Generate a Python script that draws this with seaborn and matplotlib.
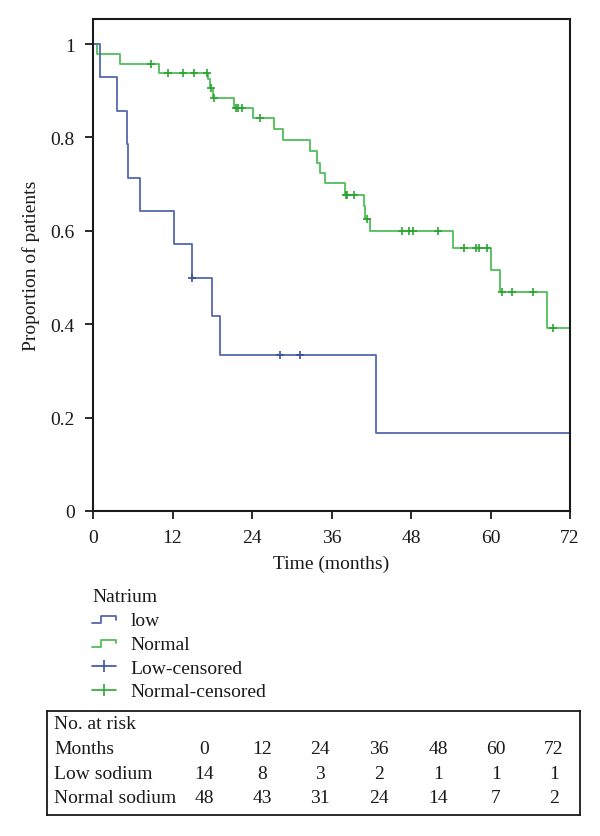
import numpy as np
import pandas as pd
import matplotlib
matplotlib.use("Agg")
import matplotlib.pyplot as plt
import seaborn as sns
from matplotlib.lines import Line2D
from matplotlib.legend_handler import HandlerBase

# ---------------- data ----------------
low_times = [0, 1.0, 3.6, 5.2, 5.3, 7.1, 12.2, 14.9, 17.9, 19.2, 42.7]
low_surv = [1.0, 0.929, 0.857, 0.786, 0.714, 0.643, 0.571, 0.500, 0.417, 0.333, 0.167]
low_censor = [15.0, 28.2, 31.2]

normal_times = [0, 0.65, 4.1, 10.0, 17.3, 17.6, 18.1, 21.3, 24.1, 27.3, 28.7, 32.7,
                33.8, 34.2, 35.0, 38.1, 40.9, 41.1, 41.8, 54.4, 60.1, 61.4, 68.6]
normal_surv = [1.0, 0.979, 0.958, 0.938, 0.925, 0.905, 0.884, 0.864, 0.841, 0.818, 0.794, 0.770,
               0.745, 0.724, 0.702, 0.677, 0.653, 0.625, 0.599, 0.563, 0.517, 0.470, 0.392]
normal_censor = [8.75, 11.3, 13.6, 15.3, 17.2, 17.8, 18.3, 21.6, 21.9, 22.5, 25.2, 38.2, 38.4,
                 39.4, 41.3, 46.6, 47.7, 48.3, 52.1, 56.0, 57.8, 58.2, 59.4, 61.7, 63.3, 66.4, 69.4]
follow_up_end = 72

x_ticks = [0, 12, 24, 36, 48, 60, 72]
y_ticks = [0, 0.2, 0.4, 0.6, 0.8, 1.0]
y_tick_labels = ["0", "0.2", "0.4", "0.6", "0.8", "1"]

risk_months = [0, 12, 24, 36, 48, 60, 72]
risk_low = [14, 8, 3, 2, 1, 1, 1]
risk_normal = [48, 43, 31, 24, 14, 7, 2]

legend_labels = ["low", "Normal", "Low-censored", "Normal-censored"]

# ---------------- style ----------------
sns.set_theme(style="white")
plt.rcParams["font.family"] = ["Liberation Serif", "DejaVu Serif"]
FS_TICK = 14
FS = 14

BLUE = "#5468b0"
GREEN = "#52be58"
BLUE_C = "#3c4f9c"
GREEN_C = "#2aa532"
INK = "#1a1a1a"

W, H = 600, 837
fig = plt.figure(figsize=(W / 100, H / 100), dpi=100)
ax = fig.add_axes([93 / W, 1 - 512 / H, 477 / W, 492 / H])


def curve_frame(times, surv, end, name):
    t = list(times) + [end]
    s = list(surv) + [surv[-1]]
    return pd.DataFrame({"time": t, "surv": s, "group": name})


def censor_frame(times, surv, ctimes, name):
    idx = np.searchsorted(np.asarray(times), np.asarray(ctimes), side="right") - 1
    return pd.DataFrame({"time": ctimes, "surv": np.asarray(surv)[idx], "group": name})


low_df = curve_frame(low_times, low_surv, follow_up_end, "low")
norm_df = curve_frame(normal_times, normal_surv, follow_up_end, "Normal")
low_c = censor_frame(low_times, low_surv, low_censor, "Low-censored")
norm_c = censor_frame(normal_times, normal_surv, normal_censor, "Normal-censored")

sns.lineplot(data=norm_df, x="time", y="surv", drawstyle="steps-post", estimator=None,
             sort=False, color=GREEN, lw=1.3, ax=ax, legend=False)
sns.lineplot(data=low_df, x="time", y="surv", drawstyle="steps-post", estimator=None,
             sort=False, color=BLUE, lw=1.3, ax=ax, legend=False)
sns.scatterplot(data=norm_c, x="time", y="surv", marker="+", s=36, color=GREEN_C,
                linewidth=1.2, ax=ax, legend=False, zorder=4)
sns.scatterplot(data=low_c, x="time", y="surv", marker="+", s=36, color=BLUE_C,
                linewidth=1.2, ax=ax, legend=False, zorder=4)

ax.set_xlim(0, 72)
ax.set_ylim(0, 1 + 25 / 467)
ax.set_xticks(x_ticks)
ax.set_xticklabels([str(v) for v in x_ticks])
ax.set_yticks(y_ticks)
ax.set_yticklabels(y_tick_labels)
ax.tick_params(axis="both", direction="out", length=6, width=1.3, color=INK,
               labelsize=FS_TICK, labelcolor=INK, bottom=True, left=True)
ax.tick_params(axis="x", pad=7)
ax.tick_params(axis="y", pad=7)
for sp in ax.spines.values():
    sp.set_visible(True)
    sp.set_color(INK)
    sp.set_linewidth(1.5)

ax.set_xlabel("Time (months)", fontsize=FS, color=INK)
ax.set_ylabel("Proportion of patients", fontsize=FS, color=INK)
ax.xaxis.set_label_coords(0.5, -(556 - 512) / 492)
ax.yaxis.set_label_coords(-(93 - 40) / 477, 0.5)


# ---------------- legend ----------------
class StepHandler(HandlerBase):
    def create_artists(self, legend, orig_handle, xdescent, ydescent, width, height,
                       fontsize, trans):
        xs = np.array([0, 0.38, 0.38, 1.0, 1.0]) * width - xdescent
        ys = np.array([0.15, 0.15, 0.65, 0.65, 0.38]) * height - ydescent
        line = Line2D(xs, ys, color=orig_handle.get_color(), lw=orig_handle.get_linewidth())
        line.set_transform(trans)
        return [line]


h_low = Line2D([], [], color=BLUE, lw=1.3)
h_norm = Line2D([], [], color=GREEN, lw=1.3)
h_lowc = Line2D([], [], color=BLUE_C, lw=1.2, marker="|", markersize=9, markeredgewidth=1.2)
h_normc = Line2D([], [], color=GREEN_C, lw=1.2, marker="|", markersize=9, markeredgewidth=1.2)

leg = fig.legend([h_low, h_norm, h_lowc, h_normc], legend_labels,
                 handler_map={h_low: StepHandler(), h_norm: StepHandler()},
                 title="Natrium", loc="upper left",
                 bbox_to_anchor=(92 / W, 1 - 589 / H), frameon=False,
                 fontsize=FS, title_fontsize=FS, alignment="left",
                 borderpad=0, borderaxespad=0, handlelength=1.25,
                 handletextpad=0.75, labelspacing=0.32)
for t in leg.get_texts():
    t.set_color(INK)
leg.get_title().set_color(INK)

# ---------------- number at risk table ----------------
tax = fig.add_axes([47 / W, 1 - 816 / H, 533 / W, 104 / H])
tax.set_xlim(47, 580)
tax.set_ylim(816, 712)
tax.set_xticks([])
tax.set_yticks([])
for sp in tax.spines.values():
    sp.set_visible(True)
    sp.set_color(INK)
    sp.set_linewidth(1.3)

col_x = [204, 262, 320, 379, 438, 496, 554]
row_y = [725, 750, 775, 799]
tax.text(54, row_y[0], "No. at risk", fontsize=FS, color=INK, ha="left", va="center")
rows = [("Months", risk_months), ("Low sodium", risk_low), ("Normal sodium", risk_normal)]
for (label, vals), yy in zip(rows, row_y[1:]):
    tax.text(54, yy, label, fontsize=FS, color=INK, ha="left", va="center")
    for v, xx in zip(vals, col_x):
        tax.text(xx, yy, str(v), fontsize=FS, color=INK, ha="center", va="center")

fig.savefig("out.png", dpi=100, facecolor="white")
